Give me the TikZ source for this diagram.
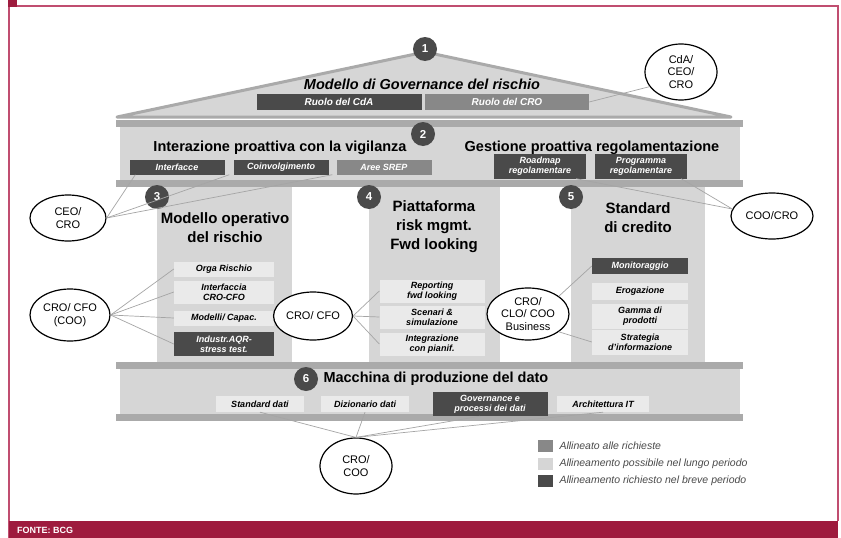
\documentclass[tikz,border=0pt]{standalone}
\usepackage{fontspec}
\setmainfont{Liberation Sans}
\usetikzlibrary{shapes.geometric}

\definecolor{bcgred}{RGB}{158,27,62}
\definecolor{framered}{RGB}{192,78,112}
\definecolor{dk}{RGB}{74,74,74}
\definecolor{md}{RGB}{136,136,136}
\definecolor{lt}{RGB}{234,234,234}
\definecolor{panel}{RGB}{214,214,214}
\definecolor{stripe}{RGB}{170,170,170}
\definecolor{wirec}{RGB}{165,165,165}

\tikzset{
	dkbox/.style={fill=dk,text=white,font=\fontsize{9}{10}\selectfont\bfseries\itshape,align=center,inner sep=0pt},
	mdbox/.style={dkbox,fill=md},
	ltbox/.style={dkbox,fill=lt,text=black},
	bigtext/.style={font=\fontsize{10}{11}\selectfont\bfseries\itshape},
	numdot/.style={circle,fill=dk,text=white,font=\fontsize{11.5}{11.5}\selectfont\bfseries,minimum size=24pt,inner sep=0pt},
	actor/.style={ellipse,draw=black,line width=1.2pt,fill=white,font=\fontsize{11}{12.5}\selectfont,align=center,inner sep=1pt},
	wire/.style={draw=wirec,line width=0.7pt},
	bandtitle/.style={font=\fontsize{14.5}{17}\selectfont\bfseries},
	coltitle/.style={font=\fontsize{15}{19}\selectfont\bfseries,align=center},
	legtext/.style={anchor=west,font=\fontsize{10.5}{11.5}\selectfont\itshape,text=dk}
}

\begin{document}
\begin{tikzpicture}[x=1pt,y=1pt,yscale=-1,xscale=1]
	\useasboundingbox (0,0) rectangle (841,538);

	%Frame
	\fill[white] (0,0) rectangle (841,538);
	\draw[framered,line width=1.6pt] (9,538) -- (9,6) -- (838,6) -- (838,521);
	\fill[bcgred] (8,0) rectangle (17,7);
	\fill[bcgred] (9,521) rectangle (838,538);
	% Text Node
	\node[anchor=west,text=white,font=\fontsize{9}{10}\selectfont\bfseries,inner sep=0pt] (fonte) at (17,530) {FONTE: BCG};

	%Roof
	\draw[stripe,fill=panel,line width=3pt,line join=round] (117,117) -- (425,52) -- (731,117) -- cycle;
	%Top beam
	\fill[stripe] (116,120) rectangle (743,127);
	\fill[panel] (120,127) rectangle (740,180);
	\fill[stripe] (116,180) rectangle (743,187);
	%Columns
	\fill[panel] (157,187) rectangle (292,362);
	\fill[panel] (369,187) rectangle (500,362);
	\fill[panel] (571,187) rectangle (705,362);
	%Bottom beam
	\fill[stripe] (116,362) rectangle (743,369);
	\fill[panel] (120,369) rectangle (740,414);
	\fill[stripe] (116,414) rectangle (743,421);

	% Level 1
	\node[numdot] (n1) at (425,49) {1};
	\node[font=\fontsize{14.5}{16}\selectfont\bfseries\itshape] (govtitle) at (422,84) {Modello di Governance del rischio};
	\node[dkbox,bigtext,minimum width=165pt,minimum height=16pt] (rcda) at (339,102) {Ruolo del CdA};
	\node[mdbox,bigtext,minimum width=164pt,minimum height=16pt] (rcro) at (507,102) {Ruolo del CRO};

	% Level 2
	\node[numdot] (n2) at (423,134) {2};
	\node[bandtitle] (vigtitle) at (280,148) {Interazione proattiva con la vigilanza};
	\node[bandtitle] (regtitle) at (592,148) {Gestione proattiva regolamentazione};
	\node[dkbox,minimum width=95pt,minimum height=15pt] (interf) at (177,167) {Interfacce};
	\node[dkbox,minimum width=95pt,minimum height=15pt] (coinv) at (281,167) {Coinvolgimento};
	\node[mdbox,minimum width=95pt,minimum height=15pt] (srep) at (384,167) {Aree SREP};
	\node[dkbox,minimum width=92pt,minimum height=25pt] (roadmap) at (540,166) {Roadmap\\regolamentare};
	\node[dkbox,minimum width=92pt,minimum height=25pt] (progr) at (641,166) {Programma\\regolamentare};

	% Column 3
	\node[numdot] (n3) at (157,197) {3};
	\node[coltitle] (c3title) at (225,228) {Modello operativo\\del rischio};
	\node[ltbox,minimum width=100pt,minimum height=15pt] (orga) at (224,269) {Orga Rischio};
	\node[ltbox,minimum width=100pt,minimum height=23pt] (intcfo) at (224,292) {Interfaccia\\CRO-CFO};
	\node[ltbox,minimum width=100pt,minimum height=15pt] (modelli) at (224,318) {Modelli/ Capac.};
	\node[dkbox,minimum width=100pt,minimum height=24pt] (aqr) at (224,344) {Industr.AQR-\\stress test.};

	% Column 4
	\node[numdot] (n4) at (369,197) {4};
	\node[coltitle] (c4title) at (434,227) {Piattaforma\\risk mgmt.\\Fwd looking};
	\node[ltbox,minimum width=105pt,minimum height=23pt] (report) at (432,291) {Reporting\\fwd looking};
	\node[ltbox,minimum width=105pt,minimum height=23pt] (scenari) at (432,317) {Scenari \&\\simulazione};
	\node[ltbox,minimum width=105pt,minimum height=23pt] (integr) at (432,344) {Integrazione\\con pianif.};

	% Column 5
	\node[numdot] (n5) at (571,197) {5};
	\node[coltitle] (c5title) at (638,218) {Standard\\di credito};
	\node[dkbox,minimum width=96pt,minimum height=16pt] (monit) at (640,266) {Monitoraggio};
	\node[ltbox,minimum width=96pt,minimum height=17pt] (erog) at (640,291) {Erogazione};
	\node[ltbox,minimum width=96pt,minimum height=25pt] (gamma) at (640,316) {Gamma di\\prodotti};
	\node[ltbox,minimum width=96pt,minimum height=25pt] (strat) at (640,342) {Strategia\\d'informazione};

	% Level 6
	\node[numdot] (n6) at (306,379) {6};
	\node[bandtitle,anchor=west] (dattitle) at (320,379) {Macchina di produzione del dato};
	\node[ltbox,minimum width=88pt,minimum height=16pt] (stddati) at (260,404) {Standard dati};
	\node[ltbox,minimum width=88pt,minimum height=16pt] (dizion) at (365,404) {Dizionario dati};
	\node[dkbox,minimum width=115pt,minimum height=24pt] (govdati) at (490,404) {Governance e\\processi dei dati};
	\node[ltbox,minimum width=92pt,minimum height=16pt] (archit) at (603,404) {Architettura IT};

	% Actors
	\node[actor,minimum width=72pt,minimum height=56pt] (cdaceo) at (681,72) {CdA/\\CEO/\\CRO};
	\node[actor,minimum width=76pt,minimum height=46pt] (ceocro) at (68,218) {CEO/\\CRO};
	\node[actor,minimum width=80pt,minimum height=52pt] (crocfocoo) at (70,315) {CRO/ CFO\\(COO)};
	\node[actor,minimum width=72pt,minimum height=48pt] (crocfo) at (313,316) {CRO/ CFO};
	\node[actor,minimum width=82pt,minimum height=52pt] (crobus) at (528,314) {CRO/\\CLO/ COO\\Business};
	\node[actor,minimum width=82pt,minimum height=46pt] (coocro) at (772,216) {COO/CRO};
	\node[actor,minimum width=72pt,minimum height=56pt] (crocoo) at (356,466) {CRO/\\COO};

	% Connectors
	\draw[wire] (cdaceo.205) -- (rcro.east);
	\draw[wire] (ceocro.east) -- ([xshift=6pt]interf.south west);
	\draw[wire] (ceocro.east) -- ([xshift=-4pt]coinv.south west);
	\draw[wire] (ceocro.east) -- ([xshift=-4pt]srep.south west);
	\draw[wire] (crocfocoo.east) -- (orga.west);
	\draw[wire] (crocfocoo.east) -- (intcfo.west);
	\draw[wire] (crocfocoo.east) -- (modelli.west);
	\draw[wire] (crocfocoo.east) -- (aqr.west);
	\draw[wire] (crocfo.east) -- (report.west);
	\draw[wire] (crocfo.east) -- (scenari.west);
	\draw[wire] (crocfo.east) -- (integr.west);
	\draw[wire] (crobus.30) -- (monit.west);
	\draw[wire] (crobus.-30) -- (strat.west);
	\draw[wire] (coocro.170) -- ([xshift=-10pt]roadmap.south east);
	\draw[wire] (coocro.170) -- ([xshift=-6pt]progr.south east);
	\draw[wire] (crocoo.north) -- (stddati.south);
	\draw[wire] (crocoo.north) -- (dizion.south);
	\draw[wire] (crocoo.north) -- ([xshift=-10pt]govdati.south);
	\draw[wire] (crocoo.north) -- (archit.south);

	% Legend
	\node[fill=md,minimum width=15pt,minimum height=12pt,inner sep=0pt] (legmd) at (545,446) {};
	\node[legtext] (legmdtext) at (556,446) {Allineato alle richieste};
	\node[fill=panel,minimum width=15pt,minimum height=12pt,inner sep=0pt] (leglt) at (545,464) {};
	\node[legtext] (leglttext) at (556,464) {Allineamento possibile nel lungo periodo};
	\node[fill=dk,minimum width=15pt,minimum height=12pt,inner sep=0pt] (legdk) at (545,481) {};
	\node[legtext] (legdktext) at (556,481) {Allineamento richiesto nel breve periodo};
\end{tikzpicture}
\end{document}
